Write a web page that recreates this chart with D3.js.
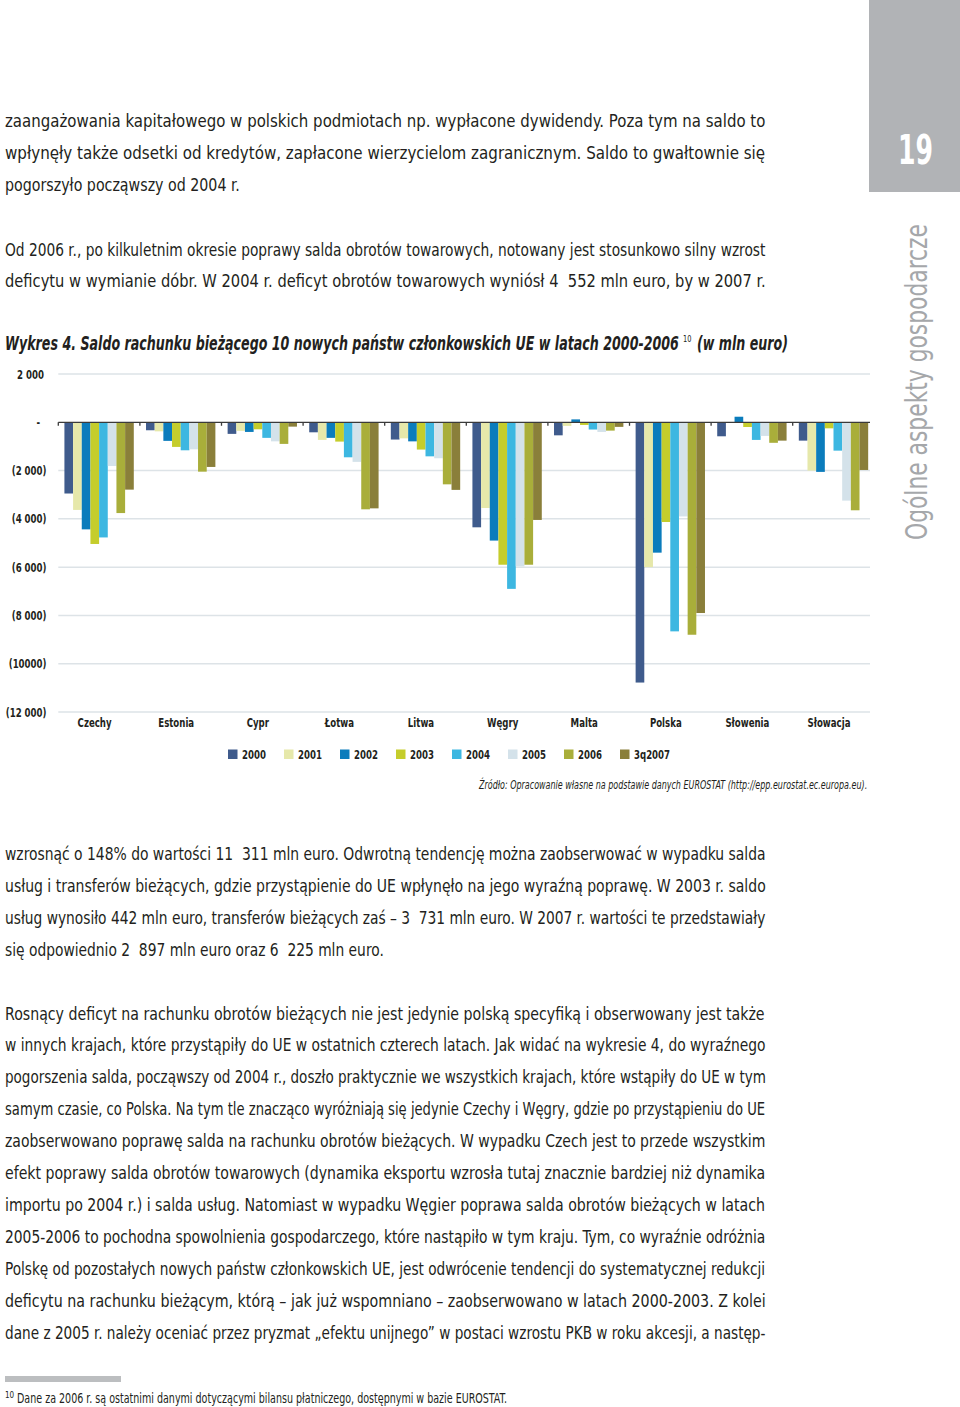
<!DOCTYPE html>
<html>
<head>
<meta charset="utf-8">
<script src="https://cdn.jsdelivr.net/npm/d3@7"></script>
<style>
  html, body { margin: 0; padding: 0; background: #fff; }
  svg { display: block; }
  .cond { font-family: 'Liberation Sans Narrow', 'DejaVu Sans Condensed', 'Roboto Condensed', 'Open Sans Condensed', 'Liberation Sans', sans-serif; font-stretch: condensed; white-space: pre; }
</style>
</head>
<body>
<svg id="page" width="960" height="1407"></svg>
<script>
// ---------------- DATA ----------------
const categories = ["Czechy", "Estonia", "Cypr", "Łotwa", "Litwa", "Węgry", "Malta", "Polska", "Słowenia", "Słowacja"];
const seriesNames = ["2000", "2001", "2002", "2003", "2004", "2005", "2006", "3q2007"];
const v2000   = [-2950,  -330, -480,  -415,  -715, -4350, -540, -10780, -580,  -760];
const v2001   = [-3630,  -375, -355,  -730,  -665, -3550, -150,  -6000,  -20, -2000];
const v2002   = [-4435,  -770, -400,  -645,  -790, -4900,  120,  -5400,  230, -2055];
const v2003   = [-5040, -1020, -290,  -800, -1130, -5900, -110,  -4130, -195,  -250];
const v2004   = [-4770, -1160, -645, -1450, -1410, -6900, -300,  -8660, -730, -1175];
const v2005   = [-1810, -1120, -790, -1640, -1490, -5970, -400,  -3900, -565, -3245];
const v2006   = [-3760, -2045, -895, -3605, -2570, -5900, -345,  -8800, -850, -3645];
const v3q2007 = [-2790, -1850, -180, -3565, -2800, -4045, -190,  -7900, -760, -1975];
const seriesValues = [v2000, v2001, v2002, v2003, v2004, v2005, v2006, v3q2007];
const seriesColors = ["#3f5b8c", "#e6e8aa", "#0b7cbc", "#c5cd2c", "#3db7e1", "#d4e2ea", "#a9ae3a", "#8a7f3a"];
const yTickValues = [2000, 0, -2000, -4000, -6000, -8000, -10000, -12000];
const yTickLabels = ["2 000", "-", "(2 000)", "(4 000)", "(6 000)", "(8 000)", "(10000)", "(12 000)"];

// text of the page
const topLines = [
  "zaangażowania kapitałowego w polskich podmiotach np. wypłacone dywidendy. Poza tym na saldo to",
  "wpłynęły także odsetki od kredytów, zapłacone wierzycielom zagranicznym. Saldo to gwałtownie się",
  "pogorszyło począwszy od 2004 r."
];
const topLines2 = [
  "Od 2006 r., po kilkuletnim okresie poprawy salda obrotów towarowych, notowany jest stosunkowo silny wzrost",
  "deficytu w wymianie dóbr. W 2004 r. deficyt obrotów towarowych wyniósł 4  552 mln euro, by w 2007 r."
];
const bottomLines1 = [
  "wzrosnąć o 148% do wartości 11  311 mln euro. Odwrotną tendencję można zaobserwować w wypadku salda",
  "usług i transferów bieżących, gdzie przystąpienie do UE wpłynęło na jego wyraźną poprawę. W 2003 r. saldo",
  "usług wynosiło 442 mln euro, transferów bieżących zaś – 3  731 mln euro. W 2007 r. wartości te przedstawiały",
  "się odpowiednio 2  897 mln euro oraz 6  225 mln euro."
];
const bottomLines2 = [
  "Rosnący deficyt na rachunku obrotów bieżących nie jest jedynie polską specyfiką i obserwowany jest także",
  "w innych krajach, które przystąpiły do UE w ostatnich czterech latach. Jak widać na wykresie 4, do wyraźnego",
  "pogorszenia salda, począwszy od 2004 r., doszło praktycznie we wszystkich krajach, które wstąpiły do UE w tym",
  "samym czasie, co Polska. Na tym tle znacząco wyróżniają się jedynie Czechy i Węgry, gdzie po przystąpieniu do UE",
  "zaobserwowano poprawę salda na rachunku obrotów bieżących. W wypadku Czech jest to przede wszystkim",
  "efekt poprawy salda obrotów towarowych (dynamika eksportu wzrosła tutaj znacznie bardziej niż dynamika",
  "importu po 2004 r.) i salda usług. Natomiast w wypadku Węgier poprawa salda obrotów bieżących w latach",
  "2005-2006 to pochodna spowolnienia gospodarczego, które nastąpiło w tym kraju. Tym, co wyraźnie odróżnia",
  "Polskę od pozostałych nowych państw członkowskich UE, jest odwrócenie tendencji do systematycznej redukcji",
  "deficytu na rachunku bieżącym, którą – jak już wspomniano – zaobserwowano w latach 2000-2003. Z kolei",
  "dane z 2005 r. należy oceniać przez pryzmat „efektu unijnego” w postaci wzrostu PKB w roku akcesji, a następ-"
];

// ---------------- HELPERS ----------------
const svg = d3.select("#page");
svg.append("rect").attr("width", 960).attr("height", 1407).attr("fill", "#fff");
const textColor = "#231f20";

// horizontally scale a text element (placed with x/y attrs) so that its width equals `target`
function fitWidth(sel, target, extra) {
  sel.each(function () {
    const t = d3.select(this);
    const w = this.getComputedTextLength();
    const k = target / w;
    const x = +t.attr("x") || 0, yy = +t.attr("y") || 0;
    t.attr("x", 0).attr("y", 0)
      .attr("transform", `translate(${x},${yy})${extra || ""} scale(${k},1)`);
  });
}
// scale by a factor instead of to a target width
function squeezeBy(sel, k) {
  sel.each(function () {
    const t = d3.select(this);
    const x = +t.attr("x") || 0, yy = +t.attr("y") || 0;
    t.attr("x", 0).attr("y", 0).attr("transform", `translate(${x},${yy}) scale(${k},1)`);
  });
}

function para(lines, y0, widths) {
  lines.forEach((t, i) => {
    svg.append("text").attr("class", "cond")
      .attr("x", 5).attr("y", y0 + i * 31.9)
      .attr("font-size", 18.5).attr("fill", textColor)
      .text(t)
      .call(fitWidth, widths[i]);
  });
}
para(topLines, 127, [761, 761, 235]);
para(topLines2, 255.5, [761, 761]);
para(bottomLines1, 860, [761, 761, 761, 379]);
para(bottomLines2, 1019.5, [760, 761, 761, 761, 761, 761, 761, 761, 761, 761, 761]);

// title (three separate pieces)
svg.append("text").attr("class", "cond").attr("fill", textColor)
  .attr("x", 5).attr("y", 350).attr("font-size", 19.5)
  .attr("font-weight", "bold").attr("font-style", "italic")
  .text("Wykres 4. Saldo rachunku bieżącego 10 nowych państw członkowskich UE w latach 2000-2006")
  .call(fitWidth, 674);
svg.append("text").attr("class", "cond").attr("fill", textColor)
  .attr("x", 683).attr("y", 342).attr("font-size", 9.5).text("10")
  .call(fitWidth, 8.5);
svg.append("text").attr("class", "cond").attr("fill", textColor)
  .attr("x", 697).attr("y", 350).attr("font-size", 19.5)
  .attr("font-weight", "bold").attr("font-style", "italic")
  .text("(w mln euro)")
  .call(fitWidth, 91);

// side decorations
svg.append("rect").attr("x", 869).attr("y", 0).attr("width", 91).attr("height", 192).attr("fill", "#b1b3b6");
svg.append("text").attr("class", "cond").attr("x", 898).attr("y", 164)
  .attr("font-size", 40).attr("font-weight", "bold")
  .attr("fill", "#fff").text("19")
  .call(fitWidth, 35);
svg.append("text").attr("class", "cond")
  .attr("x", 927).attr("y", 540)
  .attr("font-size", 31).attr("font-weight", 300).attr("fill", "#a5a7aa")
  .text("Ogólne aspekty gospodarcze")
  .call(fitWidth, 316, " rotate(-90)");

// ---------------- CHART ----------------
const left = 58.3, right = 874.3;
const x0 = d3.scaleBand().domain(categories).range([left, right]).paddingInner(0.15).paddingOuter(0.075);
const x1 = d3.scaleBand().domain(seriesNames).range([0, x0.bandwidth()]);
const y = d3.scaleLinear().domain([-12000, 2000]).range([712, 374]);
const gridRight = 870;

const g = svg.append("g");

// squeeze factor so the bold labels take the condensed width of the original
const labelSize = 13;
const probe = svg.append("text").attr("class", "cond").attr("font-size", labelSize).attr("font-weight", "bold").text("Czechy");
const squeeze = Math.min(1, 34 / probe.node().getComputedTextLength());
probe.remove();

// gridlines
g.selectAll("line.grid").data(yTickValues.filter(v => v !== 0)).join("line")
  .attr("x1", left).attr("x2", gridRight)
  .attr("y1", d => y(d)).attr("y2", d => y(d))
  .attr("stroke", "#dde3e7").attr("stroke-width", 1.5);

// y tick labels
g.selectAll("text.ylab").data(yTickValues).join("text").attr("class", "cond")
  .attr("x", d => d > 0 ? 44 : (d === 0 ? 40 : 46.5))
  .attr("y", d => y(d) + 4.5)
  .attr("text-anchor", "end").attr("font-size", labelSize).attr("font-weight", "bold").attr("fill", textColor)
  .text((d, i) => yTickLabels[i])
  .call(squeezeBy, squeeze);

// bars
const gs = g.selectAll("g.cat").data(categories).join("g")
  .attr("transform", d => `translate(${x0(d)},0)`);
gs.selectAll("rect").data((c, ci) => seriesNames.map((s, si) => ({ s, si, v: seriesValues[si][ci] }))).join("rect")
  .attr("x", d => x1(d.s))
  .attr("width", x1.bandwidth())
  .attr("y", d => Math.min(y(d.v), y(0)))
  .attr("height", d => Math.abs(y(d.v) - y(0)))
  .attr("fill", d => seriesColors[d.si]);

// zero axis
g.append("line").attr("x1", left).attr("x2", gridRight).attr("y1", y(0)).attr("y2", y(0))
  .attr("stroke", "#3a3a3a").attr("stroke-width", 1.3);
const step = x0.step();
g.selectAll("line.tick").data(categories).join("line")
  .attr("x1", d => x0(d) - step * 0.075).attr("x2", d => x0(d) - step * 0.075)
  .attr("y1", y(0)).attr("y2", y(0) + 3.5)
  .attr("stroke", "#3a3a3a").attr("stroke-width", 1.3);

// category labels
g.selectAll("text.cat").data(categories).join("text").attr("class", "cond")
  .attr("x", d => x0(d) + x0.bandwidth() / 2 - 4.5)
  .attr("y", 726.5)
  .attr("text-anchor", "middle").attr("font-size", labelSize).attr("font-weight", "bold").attr("fill", textColor)
  .text(d => d)
  .call(squeezeBy, squeeze);

// legend
const lg = g.selectAll("g.leg").data(seriesNames).join("g")
  .attr("transform", (d, i) => `translate(${228 + i * 56},749.5)`);
lg.append("rect").attr("width", 9.5).attr("height", 9.5).attr("fill", (d, i) => seriesColors[i]);
lg.append("text").attr("class", "cond").attr("x", 14).attr("y", 9.5)
  .attr("font-size", labelSize).attr("font-weight", "bold").attr("fill", textColor).text(d => d)
  .call(squeezeBy, squeeze);

// source
svg.append("text").attr("class", "cond").attr("x", 479).attr("y", 789)
  .attr("font-size", 11.5).attr("font-style", "italic").attr("fill", textColor)
  .text("Źródło: Opracowanie własne na podstawie danych EUROSTAT (http://epp.eurostat.ec.europa.eu).")
  .call(fitWidth, 389);

// footnote
svg.append("rect").attr("x", 5).attr("y", 1376).attr("width", 116).attr("height", 6).attr("fill", "#bcbec0");
svg.append("text").attr("class", "cond").attr("x", 5).attr("y", 1398)
  .attr("font-size", 8).attr("fill", textColor).text("10");
svg.append("text").attr("class", "cond").attr("x", 17).attr("y", 1403)
  .attr("font-size", 13.5).attr("fill", textColor)
  .text("Dane za 2006 r. są ostatnimi danymi dotyczącymi bilansu płatniczego, dostępnymi w bazie EUROSTAT.")
  .call(fitWidth, 491);
</script>
</body>
</html>
